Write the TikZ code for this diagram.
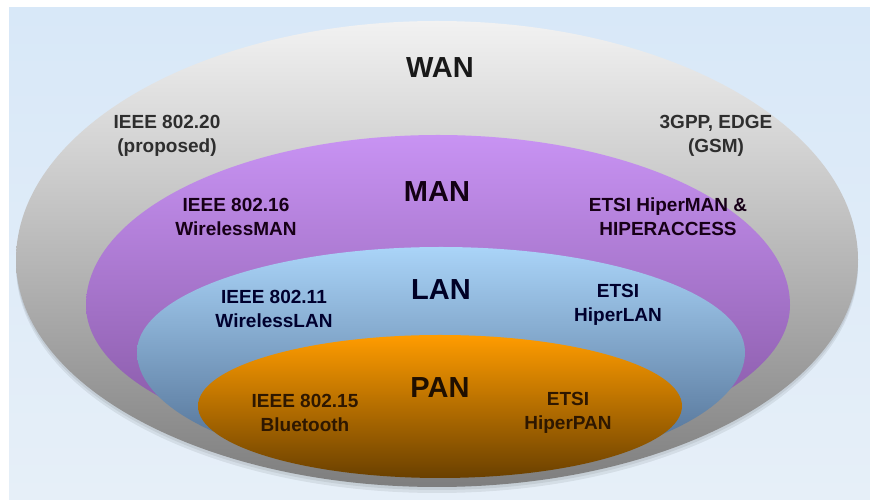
\documentclass[tikz,border=0pt]{standalone}
\usepackage{fontspec}
\setmainfont{Liberation Sans}
\definecolor{bgtop}{HTML}{D8E8F8}
\definecolor{bgbot}{HTML}{E6EFF8}
\definecolor{wantop}{HTML}{F2F2F2}
\definecolor{wanmid}{HTML}{C6C6C6}
\definecolor{wanbot}{HTML}{7E7E7E}
\definecolor{mantop}{HTML}{C893F3}
\definecolor{manmid}{HTML}{AD7AD6}
\definecolor{manbot}{HTML}{8254A0}
\definecolor{lantop}{HTML}{AAD4F8}
\definecolor{lanmid}{HTML}{8AB3DC}
\definecolor{lanbot}{HTML}{4A688C}
\definecolor{pantop}{HTML}{FF9C00}
\definecolor{panmid}{HTML}{DE8900}
\definecolor{panbot}{HTML}{6A4000}
\tikzset{
  title/.style={font=\bfseries\fontsize{29}{31}\selectfont},
  label/.style={font=\bfseries\fontsize{19}{24}\selectfont, align=center},
}
\begin{document}
\begin{tikzpicture}[x=1pt,y=1pt]
\useasboundingbox (0,0) rectangle (870,500);
\fill[white] (0,0) rectangle (870,500);
\shade[top color=bgtop, bottom color=bgbot] (9,0) rectangle (870,492);
\def\wanarea{(16,240) arc[start angle=180, end angle=0, x radius=421, y radius=239]
	arc[start angle=0, end angle=-180, x radius=421, y radius=227] -- cycle}
\def\manarea{(86,195) arc[start angle=180, end angle=0, x radius=352, y radius=170]
	arc[start angle=0, end angle=-180, x radius=352, y radius=150] -- cycle}
\def\lanarea{(137,148) arc[start angle=180, end angle=0, x radius=304, y radius=105]
	arc[start angle=0, end angle=-180, x radius=304, y radius=120] -- cycle}
\def\panarea{(198,94) arc[start angle=180, end angle=0, x radius=242, y radius=71]
	arc[start angle=0, end angle=-180, x radius=242, y radius=72] -- cycle}
% soft shadow under the outer ring
\fill[black, opacity=.07, yshift=-6pt] \wanarea;
\fill[black, opacity=.07, yshift=-3pt] \wanarea;
\shade[top color=wantop, middle color=wanmid, bottom color=wanbot] \wanarea;
\shade[top color=mantop, middle color=manmid, bottom color=manbot] \manarea;
\shade[top color=lantop, middle color=lanmid, bottom color=lanbot] \lanarea;
\shade[top color=pantop, middle color=panmid, bottom color=panbot] \panarea;
% WAN
\node[title, text=black!90] (wan) at (440,432) {WAN};
\node[label, text=black!82] (wanl) at (167,364) {IEEE 802.20\\(proposed)};
\node[label, text=black!82] (wanr) at (716,364) {3GPP, EDGE\\(GSM)};
% MAN
\node[title, text=black!85!violet] (man) at (437,308) {MAN};
\node[label, text=black!82!violet] (manl) at (236,283) {IEEE 802.16\\WirelessMAN};
\node[label, text=black!82!violet] (manr) at (668,283) {ETSI HiperMAN \&\\HIPERACCESS};
% LAN
\node[title, text=black!85!blue] (lan) at (441,210) {LAN};
\node[label, text=black!82!blue] (lanl) at (274,191) {IEEE 802.11\\WirelessLAN};
\node[label, text=black!82!blue] (lanr) at (618,195) {ETSI\\HiperLAN};
% PAN
\node[title, text=black!88!orange] (pan) at (440,112) {PAN};
\node[label, text=black!82!orange] (panl) at (305,87) {IEEE 802.15\\Bluetooth};
\node[label, text=black!82!orange] (panr) at (568,87) {ETSI\\HiperPAN};
\end{tikzpicture}
\end{document}
